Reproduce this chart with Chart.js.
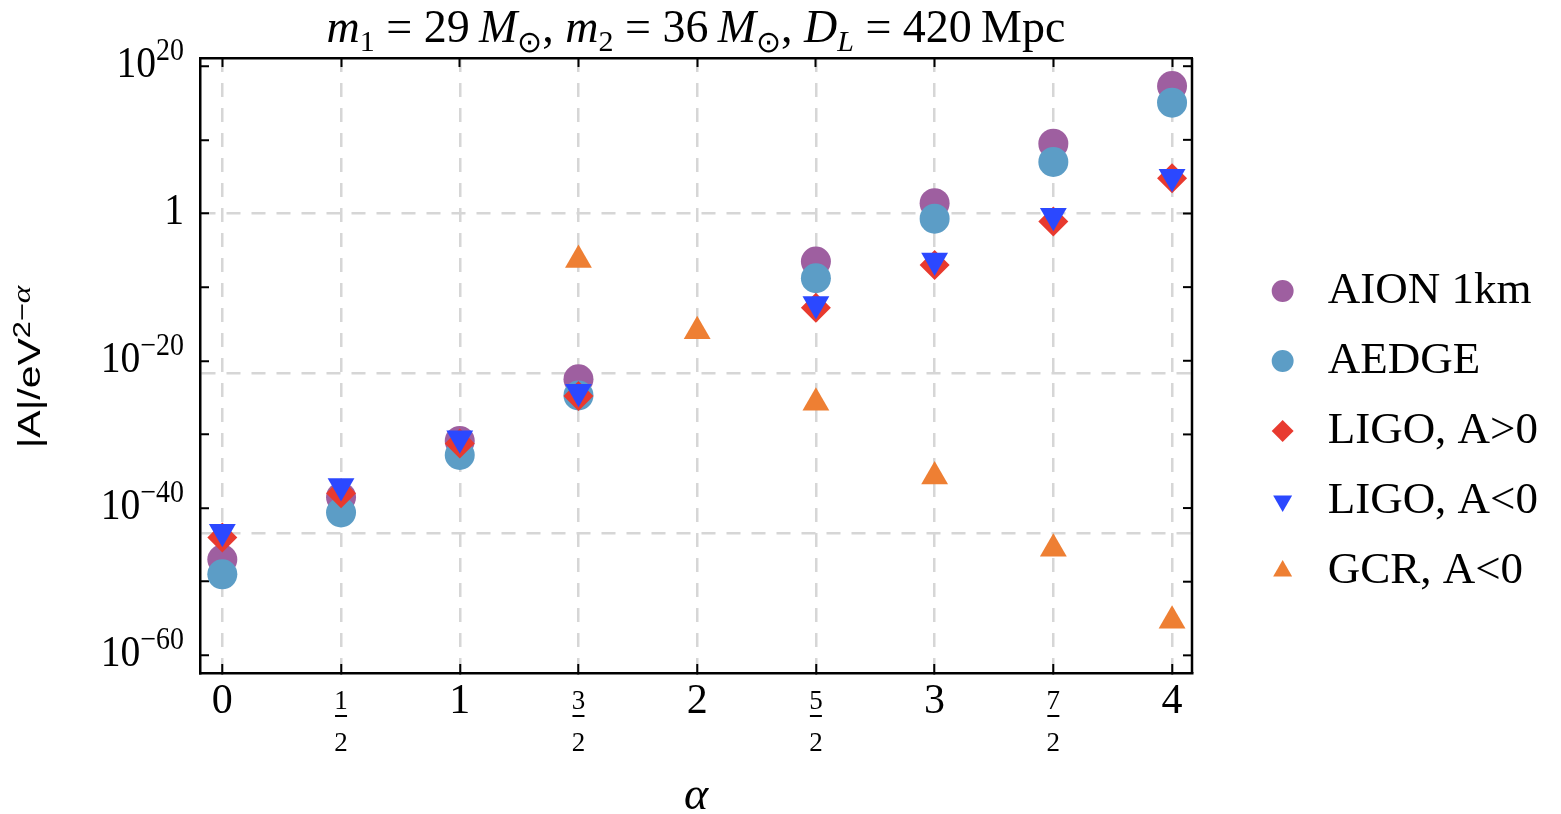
<!DOCTYPE html>
<html lang="en">
<head>
<meta charset="UTF-8">
<title>|A| versus alpha</title>
<script src="https://cdn.jsdelivr.net/npm/chart.js"></script>
<style>
  html, body { margin: 0; padding: 0; background: #fff; }
  #wrap { width: 1561px; height: 814px; }
</style>
</head>
<body>
<div id="wrap"><canvas id="alphaChart"></canvas></div>
<script>
// x positions (alpha) and their tick labels
const alphas = [0, 0.5, 1, 1.5, 2, 2.5, 3, 3.5, 4];
const xTickLabels = ['0', ['1', '2'], '1', ['3', '2'], '2', ['5', '2'], '3', ['7', '2'], '4'];

// |A| / eV^(2-alpha) (null = no point)
const aion    = [1e-47, 3e-39, 1.3e-31, 3e-23, null, 3e-7, 25, 3e9, 2e17];
const aedge   = [1e-49, 2.5e-41, 1.6e-33, 2e-25, null, 1.6e-9, 0.2, 1e7, 1.1e15];
const ligoPos = [1e-44, 1e-38, 6e-32, 1.6e-25, null, 1.6e-13, 1e-7, 0.08, 6e4];
const ligoNeg = [6e-44, 1e-37, 3e-31, 6e-25, null, 5e-13, 4e-7, 0.5, 1e5];
const gcrNeg  = [null, null, null, 5e-7, 1e-16, 2e-26, 2e-36, 3e-46, 5e-56];

const seriesNames = ['AION 1km', 'AEDGE', 'LIGO, A>0', 'LIGO, A<0', 'GCR, A<0'];

// y ticks every ten decades, labelled every twenty: [base, exponent]
const yTickValues = [1e-60, 1e-50, 1e-40, 1e-30, 1e-20, 1e-10, 1, 1e10, 1e20];
const yTickLabels = [['10', '−60'], null, ['10', '−40'], null, ['10', '−20'], null, ['1', ''], null, ['10', '20']];
// dashed horizontal grid lines sit at e^0, e^-50, e^-100
const gridValues = [1, 1.93e-22, 3.72e-44];

const SERIF = '"Liberation Serif", "Times New Roman", serif';
const SANS = '"Liberation Sans", Arial, sans-serif';
const xMin = -0.094, xMax = 4.084;
const yMin = 4e-63, yMax = 1.3e21;
const dash = [14, 11];
const gridColor = '#d6d6d6';
const clear = 'rgba(0,0,0,0)';
const padRight = 13;
const plotRight = 1192;

function pts(vals) {
  return alphas.map((a, i) => ({ x: a, y: vals[i] })).filter(p => p.y !== null);
}

// draws runs of text with their own fonts; align 'center' or 'right'
function drawRich(ctx, parts, x, y, align) {
  let total = 0;
  parts.forEach(p => { ctx.font = p[1]; total += ctx.measureText(p[0]).width; });
  let cx = align === 'right' ? x - total : x - total / 2;
  parts.forEach(p => {
    ctx.font = p[1];
    ctx.fillText(p[0], cx, y + (p[2] || 0));
    cx += ctx.measureText(p[0]).width;
  });
}

// title, y label, y tick labels, fraction bars and the mirrored right frame
const mathLabels = {
  id: 'mathLabels',
  afterDraw(chart) {
    const ctx = chart.ctx;
    const area = chart.chartArea;
    const ys = chart.scales.y;
    const xs = chart.scales.x;
    ctx.save();
    ctx.fillStyle = '#000';
    ctx.strokeStyle = '#000';
    ctx.textBaseline = 'alphabetic';
    ctx.textAlign = 'left';

    const R = '46px ' + SERIF, I = 'italic 46px ' + SERIF;
    const S = '30px ' + SERIF, SI = 'italic 30px ' + SERIF;
    drawRich(ctx, [
      ['m', I], ['1', S, 9], [' = 29\u2009', R], ['M', I], ['⊙', S, 10], [', ', R],
      ['m', I], ['2', S, 9], [' = 36\u2009', R], ['M', I], ['⊙', S, 10], [', ', R],
      ['D', I], ['L', SI, 9], [' = 420\u2009Mpc', R]
    ], (area.left + area.right) / 2, 42, 'center');

    // y axis title, rotated and drawn a little tall like the reference
    ctx.save();
    ctx.translate(40, 367);
    ctx.rotate(-Math.PI / 2);
    ctx.scale(1.28, 1);
    drawRich(ctx, [
      ['|A|/eV', '32px ' + SANS], ['2−', '24px ' + SANS, -10], ['α', 'italic 26px ' + SERIF, -10]
    ], 0, 0, 'center');
    ctx.restore();

    // y tick labels with real superscripts, right frame with inward ticks
    ctx.lineWidth = 2;
    ys.ticks.forEach(t => {
      const k = yTickValues.indexOf(t.value);
      if (k < 0) return;
      const py = ys.getPixelForValue(t.value);
      ctx.beginPath();
      ctx.moveTo(area.right, py);
      ctx.lineTo(area.right - 9, py);
      ctx.stroke();
      const lab = yTickLabels[k];
      if (!lab) return;
      ctx.save();
      ctx.translate(184, py + 11);
      ctx.scale(0.9, 1);
      drawRich(ctx, [[lab[0], '44px ' + SERIF], [lab[1], '31px ' + SERIF, -17]], 0, 0, 'right');
      ctx.restore();
    });
    ctx.lineWidth = 2.5;
    ctx.beginPath();
    ctx.moveTo(area.right, area.top);
    ctx.lineTo(area.right, area.bottom);
    ctx.stroke();

    // fraction bars under the half-integer numerators
    ctx.lineWidth = 2;
    xs.ticks.forEach((t, i) => {
      if (Array.isArray(xTickLabels[i])) {
        const px = xs.getPixelForValue(t.value);
        const py = xs.top + 43;
        ctx.beginPath();
        ctx.moveTo(px - 6, py);
        ctx.lineTo(px + 6, py);
        ctx.stroke();
      }
    });
    ctx.restore();
  }
};

const tickGrid = { drawOnChartArea: false, tickLength: -9, tickWidth: 2, tickColor: '#000' };
const frame = { color: '#000', width: 2.5 };

new Chart(document.getElementById('alphaChart'), {
  type: 'scatter',
  data: {
    datasets: [
      { label: seriesNames[0], data: pts(aion), pointStyle: 'circle', pointRadius: 15,
        backgroundColor: '#9e5fa0', borderColor: '#9e5fa0', borderWidth: 0, order: 5 },
      { label: seriesNames[1], data: pts(aedge), pointStyle: 'circle', pointRadius: 15,
        backgroundColor: '#5c9dc6', borderColor: '#5c9dc6', borderWidth: 0, order: 4 },
      { label: seriesNames[2], data: pts(ligoPos), pointStyle: 'rectRot', pointRadius: 15,
        backgroundColor: '#e83a2f', borderColor: '#e83a2f', borderWidth: 0, order: 3 },
      { label: seriesNames[3], data: pts(ligoNeg), pointStyle: 'triangle', pointRotation: 180, pointRadius: 15.5,
        backgroundColor: '#2b48ff', borderColor: '#2b48ff', borderWidth: 0, order: 2 },
      { label: seriesNames[4], data: pts(gcrNeg), pointStyle: 'triangle', pointRadius: 15.5,
        backgroundColor: '#ee7f33', borderColor: '#ee7f33', borderWidth: 0, order: 1 }
    ]
  },
  options: {
    responsive: true,
    maintainAspectRatio: false,
    animation: false,
    layout: { padding: { top: 48, right: padRight, bottom: 0, left: 0 } },
    plugins: {
      title: { display: false },
      tooltip: { enabled: false },
      legend: {
        position: 'right',
        align: 'center',
        labels: {
          usePointStyle: true,
          boxWidth: 45,
          boxHeight: 15.5,
          padding: 25,
          color: '#000',
          font: { family: SERIF, size: 45 },
          sort: (a, b) => a.datasetIndex - b.datasetIndex
        }
      }
    },
    scales: {
      x: {
        type: 'linear', position: 'bottom', min: xMin, max: xMax,
        afterBuildTicks: s => { s.ticks = alphas.map(v => ({ value: v })); },
        afterFit: s => { s.height = 141; },
        ticks: {
          callback: (v, i) => xTickLabels[i],
          color: '#000', padding: 17, maxRotation: 0, autoSkip: false,
          font: c => (Number.isInteger(c.tick && c.tick.value)
            ? { family: SERIF, size: 42, lineHeight: 1 }
            : { family: SERIF, size: 27, lineHeight: 1.55 })
        },
        grid: { color: gridColor, lineWidth: 2.5, tickLength: -9, tickWidth: 2, tickColor: '#000' },
        border: { color: '#000', width: 2.5, dash: dash },
        title: { display: true, text: 'α', color: '#000',
          font: { family: SERIF, size: 46, style: 'italic', lineHeight: 1 }, padding: { top: 0, bottom: -6 } }
      },
      x2: {
        type: 'linear', position: 'top', min: xMin, max: xMax,
        afterBuildTicks: s => { s.ticks = alphas.map(v => ({ value: v })); },
        afterFit: s => { s.height = 10; },
        ticks: { display: false },
        grid: tickGrid,
        border: frame
      },
      y: {
        type: 'logarithmic', position: 'left', min: yMin, max: yMax,
        afterBuildTicks: s => {
          s.ticks = yTickValues.concat(gridValues.filter(v => !yTickValues.includes(v)))
            .sort((a, b) => a - b).map(v => ({ value: v }));
        },
        afterFit: s => { s.width = 200; },
        ticks: { display: false },
        grid: {
          drawOnChartArea: true, lineWidth: 2.5, tickLength: -9, tickWidth: 2,
          color: c => (c.tick && gridValues.includes(c.tick.value) ? gridColor : clear),
          tickColor: c => (c.tick && yTickValues.includes(c.tick.value) ? '#000' : clear)
        },
        border: { color: '#000', width: 2.5, dash: dash }
      },
      // keeps the gap between the plot frame and the legend, draws nothing
      y2: {
        type: 'logarithmic', position: 'right', display: false, min: yMin, max: yMax,
        afterFit: s => {
          const lg = s.chart.legend;
          const lw = lg && lg.width ? lg.width : 312;
          s.width = Math.max(0, 1561 - padRight - lw - plotRight);
        }
      }
    }
  },
  plugins: [mathLabels]
});
</script>
</body>
</html>
